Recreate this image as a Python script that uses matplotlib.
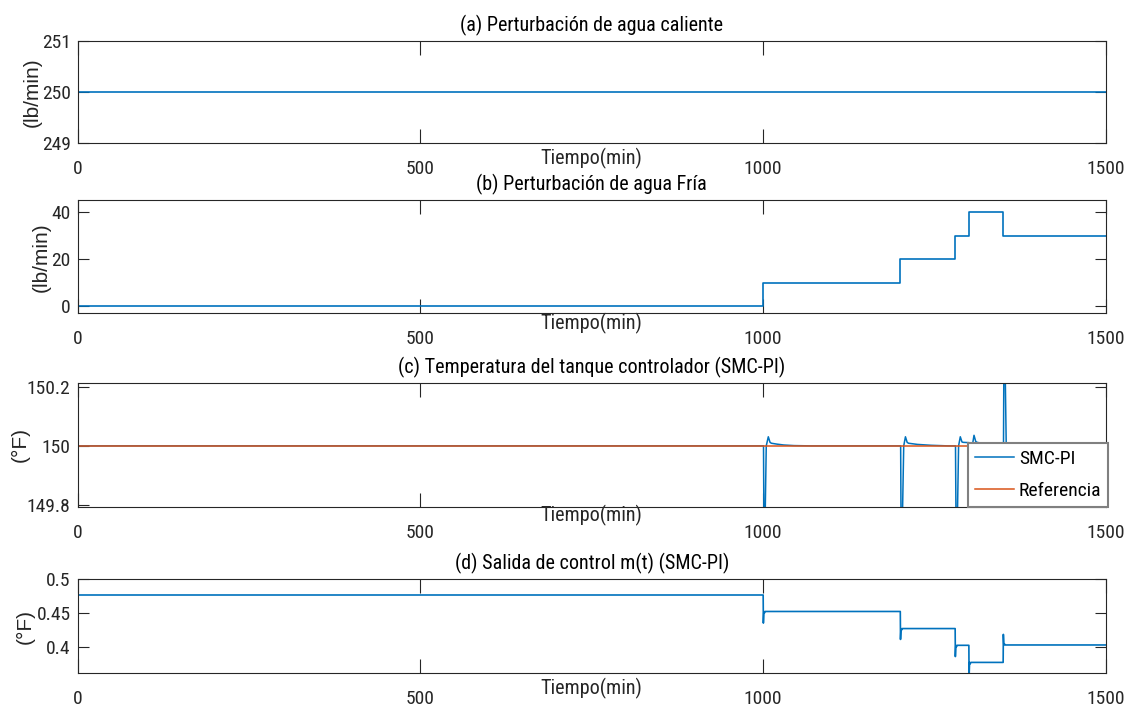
import matplotlib
matplotlib.use('Agg')
import matplotlib.pyplot as plt
from matplotlib import font_manager

# fuente estrecha si existe (como Arial Narrow en el original)
nombres = set(f.name for f in font_manager.fontManager.ttflist)
estrecha = None
for n in ['Liberation Sans Narrow', 'Arial Narrow', 'Roboto Condensed', 'Open Sans Condensed']:
    if n in nombres:
        estrecha = n
        break
if estrecha:
    plt.rcParams['font.family'] = [estrecha, 'DejaVu Sans']
    fs_tick, fs_txt = 14, 14.5
else:
    plt.rcParams['font.family'] = ['Liberation Sans', 'DejaVu Sans']
    fs_tick, fs_txt = 12, 12.5

# --- datos ---
t_fin = 1500
hot_t = [0, 1500]
hot_v = [250, 250]

cold_t = [0, 1000, 1200, 1280, 1300, 1350, 1500]
cold_v = [0, 10, 20, 30, 40, 30, 30]

temp_t = [0, 1000.5, 1001.5, 1004.5, 1007.5, 1010, 1012, 1020, 1030, 1045, 1070,
          1200.5, 1201.5, 1205, 1207.5, 1210, 1212, 1225, 1245, 1270,
          1280.5, 1281.8, 1285, 1287.5, 1290, 1292, 1300.5,
          1302, 1305, 1307.5, 1310, 1312, 1320, 1335, 1350.5,
          1351.5, 1354.5, 1357, 1360, 1375, 1400, 1500]
temp_v = [150, 150, 149.55, 150.0, 150.031, 150.012, 150.009, 150.006, 150.003, 150.001, 150.0,
          150, 149.55, 150.0, 150.031, 150.012, 150.009, 150.005, 150.002, 150.0,
          150, 149.55, 150.0, 150.031, 150.013, 150.012, 150.011,
          149.80, 150.0, 150.036, 150.015, 150.012, 150.008, 150.004, 150.003,
          150.5, 150.0, 149.97, 149.988, 149.995, 150.0, 150.0]
ref_t = [0, 1500]
ref_v = [150, 150]

m_t = [0, 0.5, 1000, 1000.3, 1001, 1002, 1003,
       1200, 1200.3, 1201, 1202, 1203,
       1280, 1280.3, 1281, 1282, 1283,
       1300, 1300.3, 1301, 1302, 1303,
       1350, 1350.3, 1351, 1352, 1353, 1500]
m_v = [0.386, 0.4766, 0.4766, 0.4355, 0.4525, 0.4505, 0.4525,
       0.4525, 0.4116, 0.4275, 0.4255, 0.4275,
       0.4275, 0.3865, 0.403, 0.401, 0.403,
       0.403, 0.355, 0.378, 0.376, 0.378,
       0.378, 0.419, 0.4035, 0.405, 0.4035, 0.4035]

azul = '#0072BD'
naranja = '#D95319'
gris = '#262626'

fig = plt.figure(figsize=(11.33, 7.06), dpi=100)
W, H = 1133.0, 706.0
def pos(top, bottom, left=77.5, right=1106):
    return [left / W, 1 - bottom / H, (right - left) / W, (bottom - top) / H]

ax1 = fig.add_axes(pos(41, 143))
ax2 = fig.add_axes(pos(200.5, 313))
ax3 = fig.add_axes(pos(383, 507))
ax4 = fig.add_axes(pos(579, 673))

ax1.plot(hot_t, hot_v, color=azul, lw=1.2)
ax2.plot(cold_t, cold_v, color=azul, lw=1.2, drawstyle='steps-post')
ax3.plot(temp_t, temp_v, color=azul, lw=1.1, label='SMC-PI')
ax3.plot(ref_t, ref_v, color=naranja, lw=1.1, label='Referencia')
ax4.plot(m_t, m_v, color=azul, lw=1.2)

ax1.set_ylim(249, 251)
ax1.set_yticks([249, 250, 251])
ax1.set_yticklabels(['249', '250', '251'])
ax2.set_ylim(-2.85, 44.9)
ax2.set_yticks([0, 20, 40])
ax2.set_yticklabels(['0', '20', '40'])
ax3.set_ylim(149.792, 150.214)
ax3.set_yticks([149.8, 150, 150.2])
ax3.set_yticklabels(['149.8', '150', '150.2'])
ax4.set_ylim(0.3625, 0.4985)
ax4.set_yticks([0.4, 0.45, 0.5])
ax4.set_yticklabels(['0.4', '0.45', '0.5'])

titulos = ['(a) Perturbación de agua caliente',
           '(b) Perturbación de agua Fría',
           '(c) Temperatura del tanque controlador (SMC-PI)',
           '(d) Salida de control m(t) (SMC-PI)']
ylabels = ['(lb/min)', '(lb/min)', '(°F)', '(°F)']
ylab_x = [32, 41, 20, 25]
xlab_off = [15, 10, 8, 15]

for i, ax in enumerate([ax1, ax2, ax3, ax4]):
    ax.set_xlim(0, t_fin)
    ax.set_xticks([0, 500, 1000, 1500])
    ax.set_xticklabels(['0', '500', '1000', '1500'])
    ax.tick_params(axis='both', direction='in', top=True, right=True,
                   colors=gris, labelsize=fs_tick, width=0.8)
    ax.tick_params(axis='x', length=10, pad=12)
    ax.tick_params(axis='y', length=8, pad=5)
    for s in ax.spines.values():
        s.set_color(gris)
        s.set_linewidth(0.8)
    ax.set_title(titulos[i], fontsize=fs_txt, color='black', pad=7)
    ax.set_xlabel('Tiempo(min)', fontsize=fs_txt, color=gris, va='center')
    h_ax = ax.get_position().height * H
    ax.xaxis.set_label_coords(0.5, -xlab_off[i] / h_ax)
    ax.set_ylabel(ylabels[i], fontsize=15, color=gris, family=['Liberation Sans', 'DejaVu Sans'],
                  va='center')
    ax.yaxis.set_label_coords((ylab_x[i] - 77.5) / 1028.5, 0.5)

leg = ax3.legend(loc='lower right', bbox_to_anchor=(1.002, 0.0), borderaxespad=0,
                 fancybox=False, framealpha=1, edgecolor='#808080', fontsize=fs_tick,
                 handlelength=2.0, handletextpad=0.25, labelspacing=0.75,
                 borderpad=0.35)
leg.get_frame().set_linewidth(1.5)

fig.savefig('out.png', dpi=100)
